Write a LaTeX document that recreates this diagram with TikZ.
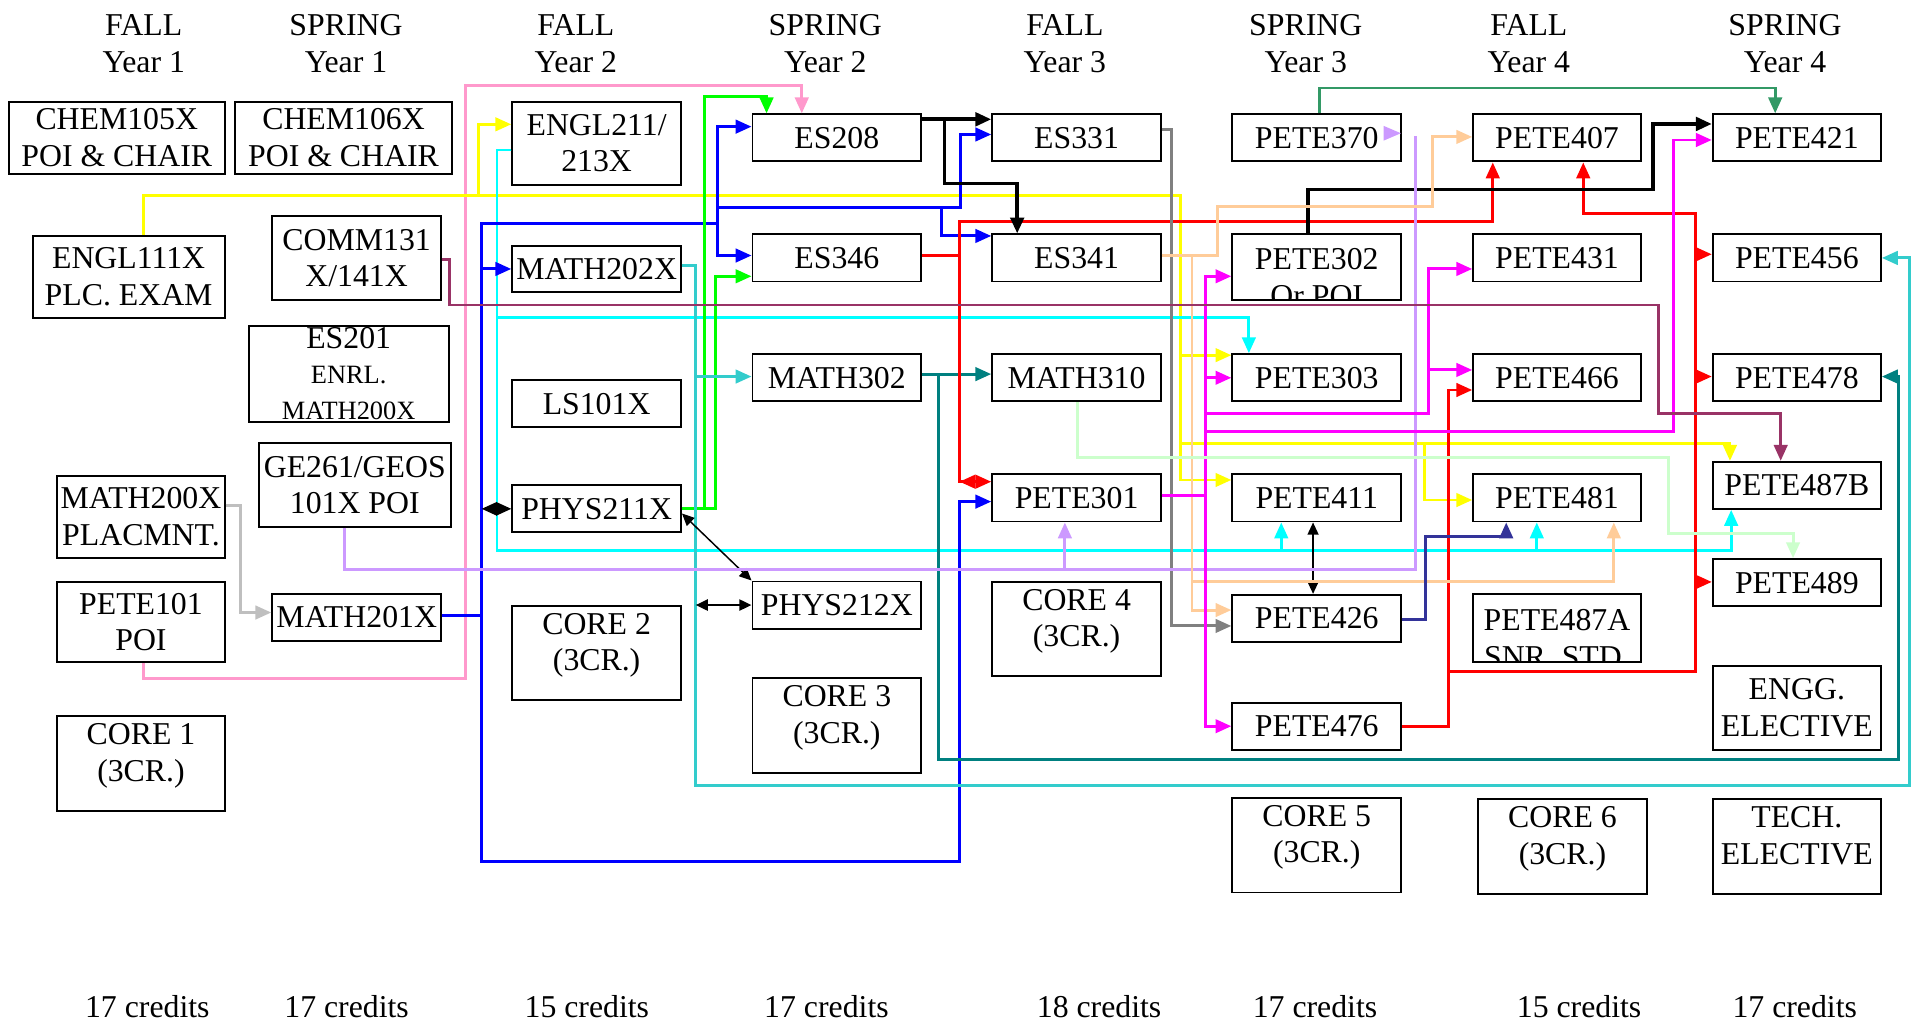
\documentclass[tikz,border=0pt]{standalone}
\usepackage{fontspec}
\setmainfont{Liberation Serif}
\usepackage{tikz}
\usetikzlibrary{arrows.meta}
\definecolor{mpink}{rgb}{1, 0.6, 0.8}
\definecolor{myellow}{rgb}{1, 1, 0}
\definecolor{mcyan}{rgb}{0, 1, 1}
\definecolor{mblue}{rgb}{0, 0, 1}
\definecolor{mgreen}{rgb}{0, 1, 0}
\definecolor{mturq}{rgb}{0.2, 0.8, 0.8}
\definecolor{mteal}{rgb}{0, 0.5, 0.5}
\definecolor{mred}{rgb}{1, 0, 0}
\definecolor{mgray}{rgb}{0.5, 0.5, 0.5}
\definecolor{mlgray}{rgb}{0.75, 0.75, 0.75}
\definecolor{mlav}{rgb}{0.8, 0.6, 1}
\definecolor{mpeach}{rgb}{1, 0.8, 0.6}
\definecolor{mmag}{rgb}{1, 0, 1}
\definecolor{mmaroon}{rgb}{0.6, 0.2, 0.4}
\definecolor{mpale}{rgb}{0.8, 1, 0.8}
\definecolor{mslate}{rgb}{0.2, 0.2, 0.6}
\definecolor{msea}{rgb}{0.2, 0.6, 0.4}
\newcommand{\coursefont}{\fontsize{13}{15}\selectfont}
\newcommand{\notefont}{\fontsize{10.8}{12.2}\selectfont}
\tikzset{course/.style = {draw, line width=0.8pt, inner sep=0pt, align=center,
                          minimum width=69pt, minimum height=19.25pt, font=\coursefont},
         core/.style = {course, minimum height=38.8pt, text depth=9pt},
         term/.style = {inner sep=0pt, align=center, anchor=north, font=\coursefont},
         credits/.style = {inner sep=0pt, anchor=base, font=\coursefont},
         link/.style = {line width=1.2pt, -{Triangle[length=6.5pt, width=5.5pt]}},
         coreq/.style = {line width=0.6pt,
                         {Triangle[length=5pt, width=4.5pt]}-{Triangle[length=5pt, width=4.5pt]}}}

\begin{document}
\begin{tikzpicture}[x=0.5pt, y=-0.5pt]
    \useasboundingbox (0, 0) rectangle (1568, 838.4);

    \node [term] (fall1) at (117.6, 11.5) {FALL\\Year 1};
    \node [term] (spring1) at (283, 11.5) {SPRING\\Year 1};
    \node [term] (fall2) at (471, 11.5) {FALL\\Year 2};
    \node [term] (spring2) at (675, 11.5) {SPRING\\Year 2};
    \node [term] (fall3) at (871, 11.5) {FALL\\Year 3};
    \node [term] (spring3) at (1068, 11.5) {SPRING\\Year 3};
    \node [term] (fall4) at (1250.5, 11.5) {FALL\\Year 4};
    \node [term] (spring4) at (1460, 11.5) {SPRING\\Year 4};

    \node [credits] (cr1) at (120.5, 832) {17 credits};
    \node [credits] (cr2) at (283.5, 832) {17 credits};
    \node [credits] (cr3) at (480, 832) {15 credits};
    \node [credits] (cr4) at (676, 832) {17 credits};
    \node [credits] (cr5) at (899, 832) {18 credits};
    \node [credits] (cr6) at (1075.6, 832) {17 credits};
    \node [credits] (cr7) at (1291.6, 832) {15 credits};
    \node [credits] (cr8) at (1468, 832) {17 credits};

    \node [course, minimum width=88.2pt, minimum height=29.75pt] (chem105x) at (95.5, 112.8) {CHEM105X\\POI \& CHAIR};
    \node [course, minimum width=78.5pt, minimum height=33.5pt] (engl111x) at (105.2, 226.5) {ENGL111X\\PLC. EXAM};
    \node [course, minimum width=68.35pt, minimum height=33.7pt] (math200x) at (115.3, 422.7) {MATH200X\\PLACMNT.};
    \node [course, minimum width=68.35pt, minimum height=33pt] (pete101) at (115.3, 508.7) {PETE101\\POI};
    \node [core, minimum width=68.35pt, minimum height=38.9pt] (core1) at (115.3, 624.5) {CORE 1\\(3CR.)};

    \node [course, minimum width=88.5pt, minimum height=29.75pt] (chem106x) at (281, 112.8) {CHEM106X\\POI \& CHAIR};
    \node [course, minimum height=34.2pt] (comm131) at (291.7, 211.2) {COMM131\\X/141X};
    \node [course, minimum width=81.8pt, minimum height=39.2pt] (es201) at (285.2, 305.8) {ES201\\[-1pt]\notefont ENRL.\\\notefont MATH200X};
    \node [course, minimum width=78.5pt, minimum height=34.25pt] (ge261) at (290.2, 396.7) {GE261/GEOS\\101X POI};
    \node [course, minimum height=19pt] (math201x) at (291.7, 505) {MATH201X};

    \node [course, minimum height=34.15pt] (engl211) at (488, 117.2) {ENGL211/\\213X};
    \node [course, minimum height=19pt] (math202x) at (488, 220) {MATH202X};
    \node [course] (ls101x) at (488, 330.2) {LS101X};
    \node [course, minimum height=19.2pt] (phys211x) at (488, 416.2) {PHYS211X};
    \node [core, minimum height=38.6pt] (core2) at (488, 534) {CORE 2\\(3CR.)};

    \node [course] (es208) at (684.5, 112.8) {ES208};
    \node [course] (es346) at (684.5, 211) {ES346};
    \node [course] (math302) at (684.5, 309) {MATH302};
    \node [course] (phys212x) at (684.5, 494.9) {PHYS212X};
    \node [core, minimum height=38.7pt] (core3) at (684.5, 593.3) {CORE 3\\(3CR.)};

    \node [course] (es331) at (880.6, 112.8) {ES331};
    \node [course] (es341) at (880.6, 211) {ES341};
    \node [course] (math310) at (880.6, 309) {MATH310};
    \node [course] (pete301) at (880.6, 407.3) {PETE301};
    \node [core, minimum height=38.75pt] (core4) at (880.6, 514.5) {CORE 4\\(3CR.)};

    \node [course] (pete370) at (1077, 112.8) {PETE370};
    \node [course, minimum height=26.85pt,
           path picture={\node [anchor=north, inner sep=0pt, align=center, font=\coursefont]
                           at ([yshift=-4pt]path picture bounding box.north) {PETE302\\Or POI};}]
          (pete302) at (1077, 218.5) {};
    \node [course] (pete303) at (1077, 309) {PETE303};
    \node [course] (pete411) at (1077, 407.3) {PETE411};
    \node [course] (pete426) at (1077, 505.8) {PETE426};
    \node [course] (pete476) at (1077, 594) {PETE476};
    \node [core] (core5) at (1077, 691.2) {CORE 5\\(3CR.)};

    \node [course, minimum width=68.5pt] (pete407) at (1273.5, 112.8) {PETE407};
    \node [course, minimum width=68.5pt] (pete431) at (1273.5, 211) {PETE431};
    \node [course, minimum width=68.5pt] (pete466) at (1273.5, 309) {PETE466};
    \node [course, minimum width=68.5pt] (pete481) at (1273.5, 407.3) {PETE481};
    \node [course, minimum width=68.5pt, minimum height=27.85pt,
           path picture={\node [anchor=north, inner sep=0pt, align=center, font=\coursefont]
                           at ([yshift=-4pt]path picture bounding box.north) {PETE487A\\SNR. STD.};}]
          (pete487a) at (1273.5, 513.8) {};
    \node [core, minimum height=38.75pt] (core6) at (1278, 692.2) {CORE 6\\(3CR.)};

    \node [course, minimum width=68.75pt] (pete421) at (1469.7, 112.8) {PETE421};
    \node [course, minimum width=68.75pt] (pete456) at (1469.7, 211) {PETE456};
    \node [course, minimum width=68.75pt] (pete478) at (1469.7, 309) {PETE478};
    \node [course, minimum width=68.75pt] (pete487b) at (1469.7, 397) {PETE487B};
    \node [course, minimum width=68.75pt] (pete489) at (1469.7, 476.6) {PETE489};
    \node [course, minimum width=68.75pt, minimum height=34.4pt] (engg) at (1469.7, 579) {ENGG.\\ELECTIVE};
    \node [core, minimum width=68.75pt, minimum height=38.75pt] (tech) at (1469.7, 692.2) {TECH.\\ELECTIVE};

    \coordinate (phys211x tail) at (394, 416.2);
    \coordinate (phys212x tail) at (569, 494.9);

    % pink
    \draw [link, mpink] (pete101.south -| 117.4,0) |- (380.5,554.6) |- (655.8,70) -- (es208.north -| 655.8,0);

    % yellow
    \draw [link, myellow] (engl111x.north -| 117,0) |- (391.5,160) |- (engl211.west |- 0,101.7);
    \draw [link, myellow] (engl111x.north -| 117,0) |- (965.5,160) |- (pete303.west |- 0,290.5);
    \draw [link, myellow] (engl111x.north -| 117,0) |- (965.5,160) |- (pete411.west |- 0,392.6);
    \draw [link, myellow] (engl111x.north -| 117,0) |- (965.5,160) |- (1415,362.6) -- (pete487b.north -| 1415,0);
    \draw [link, myellow] (engl111x.north -| 117,0) |- (965.5,160) |- (1165,362.6) |- (pete481.west |- 0,409);

    % cyan
    \draw [link, mcyan] (engl211.west |- 0,122.7) -| (406.5,260) -| (pete303.north -| 1021.5,0);
    \draw [link, mcyan] (engl211.west |- 0,122.7) -| (406.5,450) -| (pete411.south -| 1048,0);
    \draw [link, mcyan] (engl211.west |- 0,122.7) -| (406.5,450) -| (pete481.south -| 1257,0);
    \draw [link, mcyan] (engl211.west |- 0,122.7) -| (406.5,450) -| (pete487b.south -| 1416,0);

    % blue
    \draw [link, mblue] (math201x.east |- 0,503.6) -| (393.8,220) -- (math202x.west |- 0,220);
    \draw [link, mblue] (math201x.east |- 0,503.6) -| (393.8,183) -| (586.5,103.6) -- (es208.west |- 0,103.6);
    \draw [link, mblue] (math201x.east |- 0,503.6) -| (393.8,183) -| (586.5,209) -- (es346.west |- 0,209);
    \draw [link, mblue] (math201x.east |- 0,503.6) -| (393.8,183) -- (586.5,183) -- (586.5,169.7) -| (786,110) -- (es331.west |- 0,110);
    \draw [link, mblue] (math201x.east |- 0,503.6) -| (393.8,183) -- (586.5,183) -- (586.5,169.7) -| (770,193) -- (es341.west |- 0,193);
    \draw [link, mblue] (math201x.east |- 0,503.6) -| (393.8,704.8) -| (784.5,410.3) -- (pete301.west |- 0,410.3);

    % green
    \draw [link, mgreen] (phys211x.east |- 0,415.8) -| (576.6,79) -| (es208.north -| 627,0);
    \draw [link, mgreen] (phys211x.east |- 0,415.8) -| (585,226) -- (es346.west |- 0,226);

    % turquoise
    \draw [link, mturq] (math202x.east |- 0,217) -| (568.5,308) -- (math302.west |- 0,308);
    \draw [link, mturq] (math202x.east |- 0,217) -| (568.5,642.6) -| (1562,211) -- (pete456.east |- 0,211);

    % teal
    \draw [link, mteal] (math302.east |- 0,306) -- (math310.west |- 0,306);
    \draw [link, mteal] (math302.east |- 0,306) -| (768,621) -| (1552.5,308) -- (pete478.east |- 0,308);

    % red
    \draw [link, mred] (es346.east |- 0,209) -| (784.5,181) -| (pete407.south -| 1221,0);
    \draw [mred, line width=1.2pt, -{Triangle[reversed, length=6.5pt, width=5.5pt] Triangle[length=6.5pt, width=5.5pt]}]
          (es346.east |- 0,209) -| (784.5,394) -- (pete301.west |- 0,394);
    \draw [link, mred] (pete476.east |- 0,594) -| (1184.5,319) -- (pete466.west |- 0,319);
    \draw [link, mred] (pete476.east |- 0,594) -| (1184.5,549) -| (1387,476) -- (pete489.west |- 0,476);
    \draw [link, mred] (pete476.east |- 0,594) -| (1184.5,549) -| (1387,308) -- (pete478.west |- 0,308);
    \draw [link, mred] (pete476.east |- 0,594) -| (1184.5,549) -| (1387,208) -- (pete456.west |- 0,208);
    \draw [link, mred] (pete476.east |- 0,594) -| (1184.5,549) -| (1387,174.5) -| (pete407.south -| 1295,0);

    % black
    \draw [link, black, line width=1.5pt] (es208.east |- 0,97.6) -- (es331.west |- 0,97.6);
    \draw [link, black, line width=1.5pt] (es208.east |- 0,97.6) -| (772.6,150) -| (es341.north -| 832,0);
    \draw [link, black, line width=1.5pt] (pete302.north -| 1070,0) |- (1352,155) |- (pete421.west |- 0,101.4);
    \draw [coreq] (pete411.south -| 1074,0) -- (pete426.north -| 1074,0);
    \draw [coreq] (phys211x.east |- 0,420) -- (phys212x.north west);
    \draw [coreq, line width=1pt] (phys212x tail) -- (phys212x.west);
    \draw [line width=0.6pt, {Triangle[length=6.2pt, width=5.5pt]}-{Triangle[length=6.2pt, width=5.5pt]}]
          (phys211x tail) -- (phys211x.west);

    % grays
    \draw [link, mgray] (es331.east |- 0,106) -| (958,512) -- (pete426.west |- 0,512);
    \draw [link, mlgray] (math200x.east |- 0,413.6) -| (197,501) -- (math201x.west |- 0,501);

    % lavender
    \draw [link, mlav] (ge261.south -| 282,0) |- (871,465.6) -- (pete301.south -| 871,0);
    \draw [line width=1.2pt, mlav] (ge261.south -| 282,0) |- (1157.5,465.6) -- (1157.5,111);
    \fill [mlav] ([xshift=-0.5pt]pete370.east |- 0,109) -- ++(-7pt,3pt) -- ++(0,-6pt) -- cycle;

    % peach
    \draw [link, mpeach] (es341.east |- 0,209) -| (995.6,169) -| (1172,112) -- (pete407.west |- 0,112);
    \draw [link, mpeach] (es341.east |- 0,209) -| (975,499) -- (pete426.west |- 0,499);
    \draw [link, mpeach] (es341.east |- 0,209) -| (975,476) -| (pete481.south -| 1320,0);

    % magenta
    \draw [link, mmag] (pete301.east |- 0,405) -| (985.7,226) -- (pete302.west |- 0,226);
    \draw [link, mmag] (pete301.east |- 0,405) -| (985.7,309) -- (pete303.west |- 0,309);
    \draw [link, mmag] (pete301.east |- 0,405) -| (985.7,594) -- (pete476.west |- 0,594);
    \draw [link, mmag] (pete301.east |- 0,405) -| (985.7,338) -| (1168.5,220) -- (pete431.west |- 0,220);
    \draw [link, mmag] (pete301.east |- 0,405) -| (985.7,338) -| (1168.5,302.6) -- (pete466.west |- 0,302.6);
    \draw [link, mmag] (pete301.east |- 0,405) -| (985.7,353) -| (1368.5,114.5) -- (pete421.west |- 0,114.5);

    % maroon
    \draw [link, mmaroon] (comm131.east |- 0,212) -| (368,249.5) -| (1356.6,338) -| (pete487b.north -| 1456.5,0);

    % pale green
    \draw [link, mpale] (math310.south -| 881,0) |- (1365,374) |- (1466.6,436) -- (pete489.north -| 1466.6,0);

    % slate blue
    \draw [link, mslate] (pete426.east |- 0,507) -| (1165.6,439) -| (pete481.south -| 1232,0);

    % sea green
    \draw [link, msea] (pete370.north -| 1079,0) |- (1452,72) -- (pete421.north -| 1452,0);
\end{tikzpicture}
\end{document}
